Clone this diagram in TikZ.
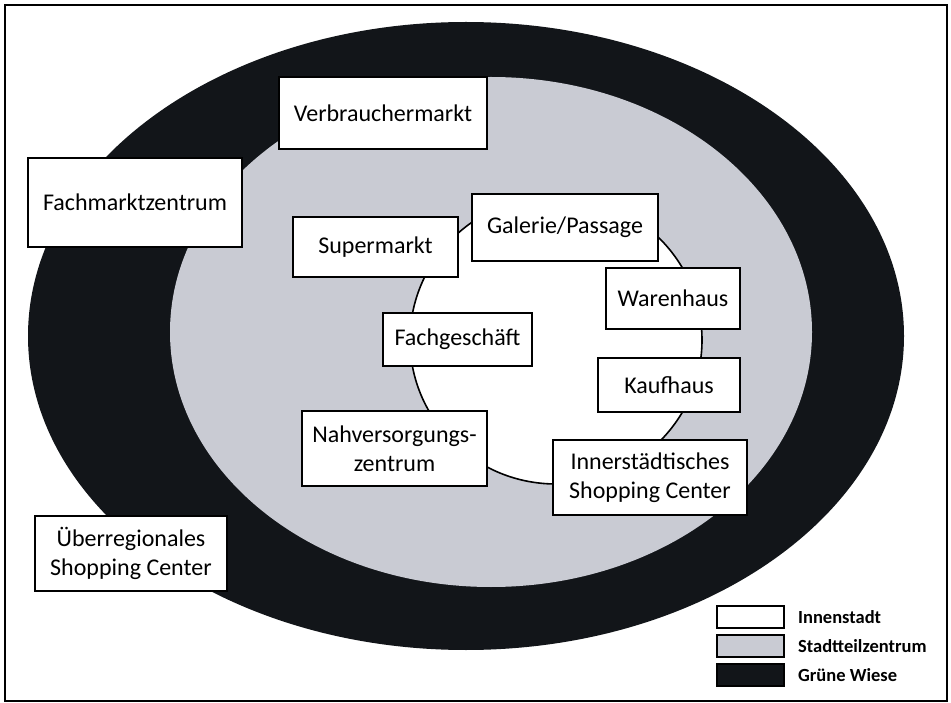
\documentclass[tikz,border=0pt]{standalone}
\usepackage{fontspec}
\setmainfont{Carlito}
\definecolor{wiese}{HTML}{121519}
\definecolor{stadtteil}{HTML}{C9CBD3}

\begin{document}
\begin{tikzpicture}[
  x=1pt,
  y=-1pt,
  shop/.style={
    draw,
    line width=1.6pt,
    fill=white,
    align=center,
    inner sep=0pt,
    font=\fontsize{24}{29}\selectfont
  },
  legendbox/.style={
    draw,
    line width=1.2pt,
    minimum width=67pt,
    minimum height=22pt,
    inner sep=0pt
  },
  legendtext/.style={
    anchor=west,
    font=\bfseries\fontsize{18.5}{22}\selectfont
  }
]
  \useasboundingbox (0,0) rectangle (951,703);
  \draw[line width=1.4pt] (5,5) rectangle (947,701);

  % zones
  \fill[wiese] (466,336) ellipse [x radius=438, y radius=314];
  \fill[stadtteil] (491,332) ellipse [x radius=321, y radius=255];
  \draw[fill=white, line width=1.6pt] (556,340) ellipse [x radius=146, y radius=144];

  % Innenstadt
  \node[shop, minimum width=186, minimum height=67] (Galerie) at (565,227.5) {Galerie/Passage};
  \node[shop, minimum width=134, minimum height=61] (Warenhaus) at (673,298.5) {Warenhaus};
  \node[shop, minimum width=142, minimum height=54] (Kaufhaus) at (669,385) {Kaufhaus};
  \node[shop, minimum width=149, minimum height=53] (Fachgeschaeft) at (457.5,339.5) {Fachgesch\"aft};
  \node[shop, minimum width=194, minimum height=75] (Innerstaedtisch) at (650,477.5) {Innerst\"adtisches\\Shopping Center};

  % Stadtteilzentrum
  \node[shop, minimum width=208, minimum height=72] (Verbraucher) at (383,113) {Verbrauchermarkt};
  \node[shop, minimum width=165, minimum height=60] (Supermarkt) at (375.5,247) {Supermarkt};
  \node[shop, minimum width=185, minimum height=75] (Nahversorgung) at (394.5,448.5) {Nahversorgungs-\\zentrum};

  % Gruene Wiese
  \node[shop, minimum width=214, minimum height=89] (Fachmarkt) at (135,202.5) {Fachmarktzentrum};
  \node[shop, minimum width=192, minimum height=75] (Ueberregional) at (131,553.5) {\"Uberregionales\\Shopping Center};

  % legend
  \foreach \y/\col/\txt/\name in {617/white/Innenstadt/innen,
                                  646/stadtteil/Stadtteilzentrum/stadt,
                                  675/wiese/Gr\"une Wiese/wiese}{
    \node[legendbox, fill=\col] (Leg-\name) at (750.5,\y) {};
    \node[legendtext] (Txt-\name) at ([xshift=10pt]Leg-\name.east) {\txt};
  }
\end{tikzpicture}
\end{document}
